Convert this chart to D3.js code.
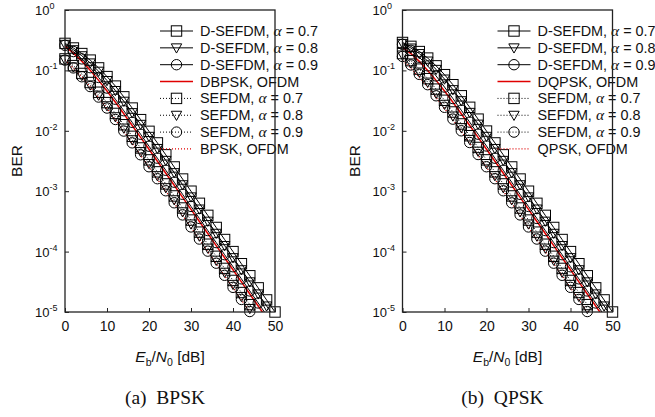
<!DOCTYPE html>
<html><head><meta charset="utf-8">
<script src="https://cdn.jsdelivr.net/npm/d3@7/dist/d3.min.js"></script>
<style>body{margin:0;background:#fff}svg{display:block}</style>
</head><body>
<svg id="chart" width="655" height="417"></svg>
<script>
// ---------- data ----------
const snr = [0,2,4,6,8,10,12,14,16,18,20,22,24,26,28,30,32,34,36,38,40,42,44,46,48,50];
const xTicks = [0,10,20,30,40,50];
const yTicks = [1,1e-1,1e-2,1e-3,1e-4,1e-5];
const yTickExp = ["0","-1","-2","-3","-4","-5"];

// (a) BPSK
const bpskDsefdm07 = [0.28,0.235,0.19,0.148,0.110,0.079,0.055,0.0365,0.0238,0.0153,0.0098,0.0063,0.0040,0.00252,0.00159,0.00100,6.3e-4,3.98e-4,2.51e-4,1.585e-4,1.0e-4,6.3e-5,3.98e-5,2.51e-5,1.585e-5,1.0e-5];
const bpskDsefdm08 = [0.27,0.22,0.175,0.133,0.097,0.068,0.0465,0.0309,0.0200,0.0128,0.0081,0.0051,0.00324,0.00203,0.00128,8.05e-4,5.07e-4,3.19e-4,2.01e-4,1.26e-4,7.94e-5,5.01e-5,3.16e-5,1.995e-5,1.26e-5,7.9e-6];
const bpskDsefdm09 = [0.26,0.205,0.155,0.111,0.0765,0.0510,0.0333,0.0215,0.0138,0.00876,0.00556,0.00352,0.00222,0.00141,8.88e-4,5.6e-4,3.54e-4,2.23e-4,1.41e-4,8.89e-5,5.61e-5,3.54e-5,2.23e-5,1.41e-5,8.89e-6,5.6e-6];
const bpskDiffOfdm = [0.25,0.1934,0.1424,0.1004,0.0684,0.04545,0.02967,0.01914,0.01225,0.0078,0.00495,0.003135,0.001983,0.001253,7.91e-4,4.995e-4,3.153e-4,1.99e-4,1.256e-4,7.92e-5,5.0e-5,3.15e-5,1.99e-5,1.256e-5,7.92e-6,5.0e-6];
const bpskSefdm07 = [0.155,0.12,0.089,0.063,0.0435,0.0293,0.0194,0.0126,0.0081,0.0052,0.0033,0.00209,0.00132,8.35e-4,5.27e-4,3.33e-4,2.1e-4,1.325e-4,8.36e-5,5.27e-5,3.33e-5,2.1e-5,1.325e-5,8.36e-6,5.27e-6,3.33e-6];
const bpskSefdm08 = [0.15,0.114,0.0825,0.0575,0.0390,0.0260,0.0171,0.0111,0.00711,0.00453,0.00287,0.00181,0.001144,7.22e-4,4.56e-4,2.87e-4,1.81e-4,1.144e-4,7.22e-5,4.56e-5,2.87e-5,1.81e-5,1.144e-5,7.22e-6,4.56e-6,2.87e-6];
const bpskSefdm09 = [0.148,0.110,0.0785,0.0540,0.0362,0.0238,0.0154,0.0099,0.00632,0.00401,0.00254,0.00161,0.001017,6.43e-4,4.05e-4,2.56e-4,1.614e-4,1.018e-4,6.43e-5,4.05e-5,2.56e-5,1.614e-5,1.018e-5,6.43e-6,4.05e-6,2.56e-6];
const bpskOfdm = [0.1464,0.1085,0.0771,0.0530,0.0355,0.0233,0.01505,0.00967,0.00617,0.003916,0.00248,0.001572,9.94e-4,6.28e-4,3.96e-4,2.5e-4,1.577e-4,9.95e-5,6.28e-5,3.96e-5,2.5e-5,1.58e-5,9.95e-6,6.28e-6,3.96e-6,2.5e-6];

// (b) QPSK
const qpskDsefdm07 = [0.29,0.25,0.205,0.16,0.119,0.085,0.058,0.038,0.0245,0.0156,0.0099,0.0063,0.0040,0.00252,0.00159,0.00100,6.3e-4,3.98e-4,2.51e-4,1.585e-4,1.0e-4,6.3e-5,3.98e-5,2.51e-5,1.585e-5,1.0e-5];
const qpskDsefdm08 = [0.28,0.235,0.19,0.143,0.104,0.072,0.048,0.0315,0.0202,0.0129,0.0081,0.0051,0.00324,0.00203,0.00128,8.05e-4,5.07e-4,3.19e-4,2.01e-4,1.26e-4,7.94e-5,5.01e-5,3.16e-5,1.995e-5,1.26e-5,7.9e-6];
const qpskDsefdm09 = [0.27,0.215,0.165,0.119,0.081,0.053,0.0342,0.0219,0.0139,0.0088,0.0056,0.00352,0.00222,0.00141,8.88e-4,5.6e-4,3.54e-4,2.23e-4,1.41e-4,8.89e-5,5.61e-5,3.54e-5,2.23e-5,1.41e-5,8.89e-6,5.6e-6];
const qpskDiffOfdm = [0.24,0.19,0.141,0.1,0.0684,0.04545,0.02967,0.01914,0.01225,0.0078,0.00495,0.003135,0.001983,0.001253,7.91e-4,4.995e-4,3.153e-4,1.99e-4,1.256e-4,7.92e-5,5.0e-5,3.15e-5,1.99e-5,1.256e-5,7.92e-6,5.0e-6];
const qpskSefdm07 = [0.19,0.145,0.105,0.073,0.049,0.032,0.0205,0.013,0.0083,0.0053,0.0033,0.00209,0.00132,8.35e-4,5.27e-4,3.33e-4,2.1e-4,1.325e-4,8.36e-5,5.27e-5,3.33e-5,2.1e-5,1.325e-5,8.36e-6,5.27e-6,3.33e-6];
const qpskSefdm08 = [0.18,0.133,0.094,0.064,0.042,0.0275,0.0176,0.0113,0.0072,0.0046,0.00287,0.00181,0.001144,7.22e-4,4.56e-4,2.87e-4,1.81e-4,1.144e-4,7.22e-5,4.56e-5,2.87e-5,1.81e-5,1.144e-5,7.22e-6,4.56e-6,2.87e-6];
const qpskSefdm09 = [0.17,0.123,0.086,0.058,0.038,0.0245,0.0156,0.0100,0.0064,0.00405,0.00254,0.00161,0.001017,6.43e-4,4.05e-4,2.56e-4,1.614e-4,1.018e-4,6.43e-5,4.05e-5,2.56e-5,1.614e-5,1.018e-5,6.43e-6,4.05e-6,2.56e-6];
const qpskOfdm = [0.1464,0.1085,0.0771,0.0530,0.0355,0.0233,0.01505,0.00967,0.00617,0.003916,0.00248,0.001572,9.94e-4,6.28e-4,3.96e-4,2.5e-4,1.577e-4,9.95e-5,6.28e-5,3.96e-5,2.5e-5,1.58e-5,9.95e-6,6.28e-6,3.96e-6,2.5e-6];

const seriesNames = ["D-SEFDM|0.7","D-SEFDM|0.8","D-SEFDM|0.9","DIFF","SEFDM|0.7","SEFDM|0.8","SEFDM|0.9","COH"];
const diffNames = ["DBPSK, OFDM","DQPSK, OFDM"];
const cohNames = ["BPSK, OFDM","QPSK, OFDM"];
const captions = ["(a)\u00a0\u00a0BPSK","(b)\u00a0\u00a0QPSK"];

// ---------- drawing ----------
const svg = d3.select("#chart");
const SANS = "'Liberation Sans', Arial, Helvetica, sans-serif";
const SERIF = "'Liberation Serif', 'Times New Roman', serif";

const styles = [
  {dash:null, color:"#000", marker:"square", w:1},
  {dash:null, color:"#000", marker:"tri", w:1},
  {dash:null, color:"#000", marker:"circle", w:1},
  {dash:null, color:"#e00000", marker:null, w:1.5},
  {dash:"1,2", color:"#000", marker:"square", w:1},
  {dash:"1,2", color:"#000", marker:"tri", w:1},
  {dash:"1,2", color:"#000", marker:"circle", w:1},
  {dash:"1,2", color:"#e00000", marker:null, w:1.2}
];

const panels = [
  {x0:65, data:[bpskDsefdm07,bpskDsefdm08,bpskDsefdm09,bpskDiffOfdm,bpskSefdm07,bpskSefdm08,bpskSefdm09,bpskOfdm]},
  {x0:402.5, data:[qpskDsefdm07,qpskDsefdm08,qpskDsefdm09,qpskDiffOfdm,qpskSefdm07,qpskSefdm08,qpskSefdm09,qpskOfdm]}
];

function drawMarker(g, type, cx, cy) {
  const s = 5.2;
  if (type === "square") {
    g.append("rect").attr("x", cx - s).attr("y", cy - s).attr("width", 2*s).attr("height", 2*s)
      .attr("fill","none").attr("stroke","#000").attr("stroke-width",1);
  } else if (type === "circle") {
    g.append("circle").attr("cx", cx).attr("cy", cy).attr("r", s)
      .attr("fill","none").attr("stroke","#000").attr("stroke-width",1);
  } else if (type === "tri") {
    g.append("path").attr("d", `M${cx-s},${cy-4}L${cx+s},${cy-4}L${cx},${cy+5.2}Z`)
      .attr("fill","none").attr("stroke","#000").attr("stroke-width",1);
  }
}

panels.forEach((p, pi) => {
  const top = 10, bottom = 312, w = 210;
  const x = d3.scaleLinear().domain([0,50]).range([p.x0, p.x0 + w]);
  const y = d3.scaleLog().domain([1e-5, 1]).range([bottom, top]);
  const g = svg.append("g");

  const clipId = "clip" + pi;
  svg.append("clipPath").attr("id", clipId).append("rect")
    .attr("x", p.x0).attr("y", top).attr("width", w).attr("height", bottom - top);

  const line = d3.line().x((d,i) => x(snr[i])).y(d => y(d));

  // lines
  const lg = g.append("g").attr("clip-path", `url(#${clipId})`);
  p.data.forEach((arr, si) => {
    const st = styles[si];
    lg.append("path").attr("d", line(arr)).attr("fill","none")
      .attr("stroke", st.color).attr("stroke-width", st.w)
      .attr("stroke-dasharray", st.dash);
  });
  // markers
  const mg = g.append("g");
  p.data.forEach((arr, si) => {
    const st = styles[si];
    if (!st.marker) return;
    arr.forEach((v, i) => {
      if (v < 9.5e-6) return;
      drawMarker(mg, st.marker, x(snr[i]), y(v));
    });
  });

  // axes
  const xAxis = d3.axisBottom(x).tickValues(xTicks).tickSizeInner(-4).tickSizeOuter(0).tickPadding(9.5);
  const gx = g.append("g").attr("transform", `translate(0,${bottom})`).call(xAxis);
  gx.select(".domain").remove();
  gx.selectAll(".tick line").attr("stroke","#222");
  gx.selectAll(".tick text").attr("font-family", SANS).attr("font-size", 14).attr("fill","#111");

  const yAxis = d3.axisLeft(y).tickValues(yTicks).tickSizeInner(-4).tickSizeOuter(0).tickFormat("");
  const gy = g.append("g").attr("transform", `translate(${p.x0},0)`).call(yAxis);
  gy.select(".domain").remove();
  gy.selectAll(".tick line").attr("stroke","#222");
  gy.selectAll(".tick").each(function(d, i) {
    const t = d3.select(this).append("text").attr("x", -30).attr("y", 4.5)
      .attr("text-anchor","start").attr("font-family", SANS).attr("fill","#111");
    t.append("tspan").attr("font-size", 13).text("10");
    t.append("tspan").attr("font-size", 9).attr("dy", -6).text(yTickExp[i]);
  });

  // axis titles
  const xt = g.append("text").attr("x", p.x0 + w/2).attr("y", 362).attr("text-anchor","middle")
    .attr("font-family", SANS).attr("font-size", 15.5).attr("fill","#111");
  xt.append("tspan").attr("font-style","italic").text("E");
  xt.append("tspan").attr("font-size", 10.5).attr("dy", 4).text("b");
  xt.append("tspan").attr("dy", -4).text("/");
  xt.append("tspan").attr("font-style","italic").text("N");
  xt.append("tspan").attr("font-size", 10.5).attr("dy", 4).text("0");
  xt.append("tspan").attr("dy", -4).text(" [dB]");

  g.append("text").attr("transform", `translate(${p.x0 - 43},${(top+bottom)/2}) rotate(-90)`)
    .attr("text-anchor","middle").attr("font-family", SANS).attr("font-size", 15.5).attr("fill","#111")
    .text("BER");

  // caption
  g.append("text").attr("x", p.x0 + w/2 - 5).attr("y", 404).attr("text-anchor","middle")
    .attr("font-family", SERIF).attr("font-size", 19.5).attr("fill","#111").text(captions[pi]);

  // legend
  const lgX1 = p.x0 + 95, lgX2 = p.x0 + 128, lgTx = p.x0 + 135;
  const leg = g.append("g");
  seriesNames.forEach((nm, si) => {
    const st = styles[si];
    const ry = 31 + si * 16.85;
    leg.append("line").attr("x1", lgX1).attr("x2", lgX2).attr("y1", ry).attr("y2", ry)
      .attr("stroke", st.color).attr("stroke-width", st.w).attr("stroke-dasharray", st.dash);
    if (st.marker) drawMarker(leg, st.marker, (lgX1 + lgX2)/2, ry);
    const t = leg.append("text").attr("x", lgTx).attr("y", ry + 5)
      .attr("font-family", SANS).attr("font-size", 14.4).attr("fill","#111");
    if (nm === "DIFF") t.text(diffNames[pi]);
    else if (nm === "COH") t.text(cohNames[pi]);
    else {
      const [a, b] = nm.split("|");
      t.append("tspan").text(a + ", ");
      t.append("tspan").attr("font-family", SERIF).attr("font-style","italic").attr("font-size", 15.5).text("\u03b1");
      t.append("tspan").text(" = " + b);
    }
  });

  // frame
  g.append("rect").attr("x", p.x0).attr("y", top).attr("width", w).attr("height", bottom - top)
    .attr("fill","none").attr("stroke","#222").attr("stroke-width",1.3);
});
</script>
</body></html>
